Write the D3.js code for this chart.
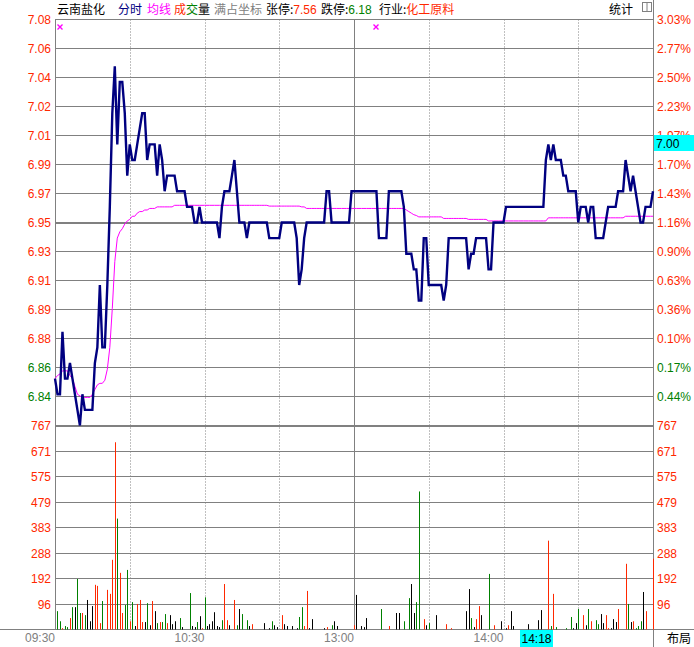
<!DOCTYPE html>
<html><head><meta charset="utf-8">
<script src="https://cdn.jsdelivr.net/npm/d3@7"></script>
<style>html,body{margin:0;padding:0;background:#fff;}svg{display:block;}</style>
</head><body><svg id="c" width="694" height="647"></svg>
<script>
// ---------------- data ----------------
const stockName = "云南盐化";
const limitUp = "7.56", limitDown = "6.18", industry = "化工原料";
const prevClose = 6.87;
const priceTop = 7.08, priceBottom = 6.82;
const priceTickLabels = ["7.08","7.06","7.04","7.02","7.01","6.99","6.97","6.95","6.93","6.91","6.89","6.88","6.86","6.84"];
const pctTickLabels = ["3.03%","2.77%","2.50%","2.23%","1.97%","1.70%","1.43%","1.16%","0.90%","0.63%","0.36%","0.10%","0.17%","0.44%"];
const volMax = 767;
const volTickLabels = ["767","671","575","479","383","288","192","96"];
const timeTickMinutes = [0, 60, 120, 180];
const timeTickLabels = ["09:30","10:30","13:00","14:00"];
const gridMinutes = [30, 60, 90, 120, 150, 180, 210];
const cursorPrice = "7.00", cursorTime = "14:18", cursorMinute = 198;

const price = [
6.85,6.84,6.84,6.88,6.85,6.85,6.86,6.85,6.84,6.83,
6.82,6.84,6.83,6.83,6.83,6.83,6.86,6.87,6.91,6.87,
6.87,6.91,6.96,7.02,7.05,7.00,7.04,7.04,7.02,6.98,
7.00,6.99,6.99,7.00,7.01,7.02,7.02,6.99,7.00,7.00,
7.00,6.98,7.00,6.99,6.97,6.98,6.98,6.98,6.98,6.97,
6.97,6.97,6.97,6.96,6.96,6.96,6.95,6.95,6.96,6.95,
6.95,6.95,6.95,6.95,6.95,6.95,6.94,6.96,6.97,6.97,
6.97,6.98,6.99,6.97,6.95,6.95,6.95,6.94,6.95,6.95,
6.95,6.95,6.95,6.95,6.95,6.95,6.94,6.94,6.94,6.94,
6.94,6.95,6.95,6.95,6.95,6.95,6.95,6.94,6.91,6.92,
6.94,6.95,6.95,6.95,6.95,6.95,6.95,6.95,6.95,6.97,
6.97,6.95,6.95,6.95,6.95,6.95,6.95,6.95,6.95,6.97,
6.97,6.97,6.97,6.97,6.97,6.97,6.97,6.97,6.97,6.97,
6.94,6.94,6.94,6.94,6.97,6.97,6.97,6.97,6.97,6.97,
6.96,6.93,6.93,6.93,6.92,6.92,6.90,6.90,6.94,6.94,
6.91,6.91,6.91,6.91,6.91,6.91,6.90,6.91,6.94,6.94,
6.94,6.94,6.94,6.94,6.94,6.94,6.92,6.93,6.93,6.94,
6.94,6.94,6.94,6.94,6.92,6.92,6.95,6.95,6.95,6.95,
6.95,6.96,6.96,6.96,6.96,6.96,6.96,6.96,6.96,6.96,
6.96,6.96,6.96,6.96,6.96,6.96,6.96,6.99,7.00,6.99,
7.00,6.99,6.99,6.99,6.98,6.98,6.97,6.97,6.97,6.97,
6.95,6.96,6.96,6.96,6.95,6.96,6.96,6.94,6.94,6.94,
6.94,6.95,6.96,6.96,6.96,6.96,6.97,6.97,6.97,6.99,
6.98,6.97,6.98,6.97,6.96,6.95,6.95,6.96,6.96,6.96,
6.97];

const avgPrice = [
6.850,6.852,6.853,6.855,6.855,6.855,6.852,6.850,6.845,6.840,
6.839,6.838,6.838,6.838,6.838,6.840,6.843,6.846,6.847,6.847,
6.849,6.856,6.870,6.895,6.925,6.940,6.944,6.946,6.949,6.951,
6.952,6.954,6.954,6.956,6.957,6.957,6.958,6.958,6.959,6.959,
6.959,6.960,6.960,6.960,6.960,6.960,6.960,6.960,6.961,6.961,
6.961,6.961,6.961,6.961,6.961,6.961,6.961,6.961,6.961,6.961,
6.961,6.961,6.961,6.961,6.961,6.961,6.961,6.961,6.961,6.961,
6.961,6.961,6.961,6.961,6.961,6.961,6.961,6.961,6.961,6.961,
6.961,6.961,6.961,6.961,6.961,6.961,6.9605,6.9605,6.9605,6.9605,
6.9605,6.9605,6.9605,6.9605,6.9605,6.9605,6.9605,6.9605,6.9605,6.960,
6.960,6.959,6.959,6.959,6.959,6.959,6.959,6.959,6.959,6.959,
6.959,6.959,6.959,6.959,6.959,6.959,6.959,6.959,6.959,6.959,
6.959,6.959,6.959,6.959,6.959,6.959,6.959,6.959,6.959,6.959,
6.959,6.959,6.959,6.959,6.959,6.959,6.959,6.959,6.959,6.959,
6.959,6.958,6.957,6.956,6.955,6.9545,6.9536,6.9536,6.9536,6.9536,
6.9536,6.9536,6.9536,6.9536,6.9536,6.9536,6.9526,6.9526,6.9526,6.9526,
6.9526,6.9526,6.9526,6.9526,6.9526,6.9526,6.952,6.952,6.952,6.952,
6.952,6.952,6.952,6.952,6.951,6.951,6.951,6.951,6.951,6.951,
6.951,6.951,6.951,6.951,6.951,6.951,6.951,6.951,6.951,6.951,
6.951,6.951,6.951,6.951,6.951,6.951,6.951,6.951,6.953,6.953,
6.953,6.953,6.953,6.953,6.953,6.953,6.953,6.953,6.953,6.953,
6.953,6.953,6.953,6.953,6.953,6.953,6.953,6.953,6.953,6.953,
6.953,6.953,6.953,6.953,6.953,6.953,6.953,6.953,6.953,6.954,
6.954,6.954,6.954,6.954,6.954,6.954,6.954,6.954,6.954,6.954,
6.954];

const volume = [
0,69,31,5,13,9,43,84,84,190,
62,62,54,111,31,88,168,164,24,107,
0,149,134,262,704,417,213,62,92,224,
31,103,13,96,111,28,28,99,16,107,
69,24,28,28,58,24,54,20,31,0,
43,9,0,0,137,13,9,28,50,5,
121,13,20,31,65,13,9,35,171,35,
16,0,111,16,77,58,0,35,13,20,
0,0,0,0,24,0,5,31,16,9,
0,54,20,13,0,13,0,5,47,84,
13,145,5,39,0,0,0,0,5,9,
0,16,31,13,0,0,0,0,0,0,
16,130,0,13,9,43,0,0,0,0,
0,77,0,0,13,0,0,62,62,0,
31,0,118,171,62,103,519,0,39,16,
24,0,0,54,0,0,0,20,0,5,
0,0,0,0,0,69,152,43,9,39,
88,54,0,0,209,0,16,0,0,31,
0,5,16,69,13,0,0,0,0,0,
20,0,0,0,35,73,0,0,334,13,
134,9,0,0,0,5,0,47,5,24,
77,0,54,16,77,31,0,35,20,58,
24,54,5,5,39,28,77,0,0,247,
96,28,31,5,13,31,141,69,0,0,
266];

// r = up (red), g = down (green), k = flat (black), - = none
const volumeDir = [
"-ggrggrgkg","grgkkkrrrg","-rrrrgrrgg","rgkrrrkgkr","kgrggrkkk-",
"gk--gkkgkr","gkkkkkkgrr","k-rgkg-gkr","----k-kgkk","-rkk-k-kgg",
"rrkk----kr","-gkk------","rk-kkk----","-g--r--kk-","g-gkkgg-rk",
"g--k---r-r","-----kkgkr","rk--g-r--k","-krkk-----","k---kk--rg",
"rg---g-gkk","g-rkgr-ggk","krrkkkr--r","gkrgggkr--","r"].join("").split("");

// ---------------- drawing ----------------
const W = 694, H = 647;
const RED = "#ff2800", GREEN = "#008000", NAVY = "#000080", MAG = "#ff00ff", GRAY = "#808080";
const NUMFONT = "'Liberation Sans', Arial, sans-serif";
const CJKFONT = "'Noto Sans CJK SC', 'Noto Sans', sans-serif";

const svg = d3.select("#c");
const L = 55.5, R = 653.5;
const x = d3.scaleLinear().domain([0, 240]).range([55, 653]);
const yP = d3.scaleLinear().domain([priceBottom, priceTop]).range([425.5, 19.5]);
const yV = d3.scaleLinear().domain([0, volMax]).range([629.5, 425.5]);

const nP = priceTickLabels.length;
const stepP = (priceTop - priceBottom) / nP;
const priceTickVals = priceTickLabels.map((_, i) => priceTop - i * stepP);
const volTickVals = volTickLabels.map((_, i) => volMax * (volTickLabels.length - i) / volTickLabels.length);

const g = svg.append("g");

// horizontal price grid
priceTickVals.concat([priceBottom]).forEach((v, i) => {
  const thick = (i === 7 || i === nP);
  const y = thick ? Math.round(yP(v)) : Math.round(yP(v) - 0.5) + 0.5;
  g.append("line").attr("x1", L).attr("x2", R).attr("y1", y).attr("y2", y)
    .attr("stroke", GRAY).attr("stroke-width", thick ? 2 : 1);
});
// volume grid
volTickVals.slice(1).forEach(v => {
  const y = Math.round(yV(v) - 0.5) + 0.5;
  g.append("line").attr("x1", L).attr("x2", R).attr("y1", y).attr("y2", y)
    .attr("stroke", GRAY).attr("stroke-width", 1);
});
// vertical time grid
gridMinutes.forEach(m => {
  const xx = Math.round(x(m)) + 0.5;
  g.append("line").attr("x1", xx).attr("x2", xx).attr("y1", 19.5).attr("y2", 629)
    .attr("stroke", GRAY).attr("stroke-width", 1)
    .attr("stroke-dasharray", m === 120 ? null : "1,2");
});
// borders
g.append("line").attr("x1", L).attr("x2", L).attr("y1", 19).attr("y2", 629.5).attr("stroke", GRAY);
g.append("line").attr("x1", R).attr("x2", R).attr("y1", 0).attr("y2", H).attr("stroke", GRAY);
g.append("line").attr("x1", 0).attr("x2", W).attr("y1", 629.5).attr("y2", 629.5).attr("stroke", GRAY);

// volume bars
const dirColor = { r: RED, g: GREEN, k: "#000000" };
svg.append("g").selectAll("line").data(volume.map((v, i) => ({ v, i, d: volumeDir[i] })).filter(d => d.v > 0))
  .join("line")
  .attr("x1", d => Math.round(x(d.i)) + 0.5).attr("x2", d => Math.round(x(d.i)) + 0.5)
  .attr("y1", yV(0)).attr("y2", d => yV(d.v))
  .attr("stroke", d => dirColor[d.d] || "#000").attr("stroke-width", 1);

// avg line
svg.append("path").datum(avgPrice)
  .attr("d", d3.line().x((d, i) => x(i)).y(d => yP(d)))
  .attr("fill", "none").attr("stroke", MAG).attr("stroke-width", 1);
// price line
svg.append("path").datum(price)
  .attr("d", d3.line().x((d, i) => x(i)).y(d => yP(d)))
  .attr("fill", "none").attr("stroke", NAVY).attr("stroke-width", 2.4).attr("stroke-linejoin", "miter");

// left / right price labels
const lab = svg.append("g").attr("font-family", NUMFONT).attr("font-size", 12);
priceTickLabels.forEach((t, i) => {
  const v = priceTickVals[i];
  lab.append("text").attr("x", 51).attr("y", yP(v) + 4.5).attr("text-anchor", "end")
    .attr("fill", v >= prevClose ? RED : GREEN).text(t);
  lab.append("text").attr("x", 657).attr("y", yP(v) + 4.5)
    .attr("fill", v >= prevClose ? RED : GREEN).text(pctTickLabels[i]);
});
volTickLabels.forEach((t, i) => {
  const v = volTickVals[i];
  lab.append("text").attr("x", 51).attr("y", yV(v) + 4.5).attr("text-anchor", "end").attr("fill", RED).text(t);
  lab.append("text").attr("x", 657).attr("y", yV(v) + 4.5).attr("fill", RED).text(t);
});
// time labels
timeTickMinutes.forEach((m, i) => {
  lab.append("text").attr("x", x(m)).attr("y", 642).attr("text-anchor", "end")
    .attr("fill", GRAY).text(timeTickLabels[i]);
});

// cursor price box
const cy = yP(+cursorPrice);
svg.append("rect").attr("x", 654).attr("y", Math.round(cy) - 9).attr("width", 40).attr("height", 16).attr("fill", "#00ffff");
svg.append("text").attr("x", 656).attr("y", Math.round(cy) + 4).attr("font-family", NUMFONT).attr("font-size", 12).attr("fill", "#000").text(cursorPrice);
// cursor time box
const cx = x(cursorMinute);
svg.append("rect").attr("x", Math.round(cx) - 28).attr("y", 630).attr("width", 33).attr("height", 17).attr("fill", "#00ffff");
svg.append("text").attr("x", Math.round(cx) - 11.5).attr("y", 643).attr("text-anchor", "middle")
  .attr("font-family", NUMFONT).attr("font-size", 12).attr("fill", "#000").text(cursorTime);

// header
const hdr = svg.append("g").attr("font-family", CJKFONT).attr("font-size", 12);
function ht(xx, parts) {
  const t = hdr.append("text").attr("x", xx).attr("y", 14);
  parts.forEach(p => t.append("tspan").attr("fill", p[1]).attr("font-family", p[2] || null).text(p[0]));
}
ht(57, [[stockName, "#000"]]);
ht(118, [["分时", NAVY]]);
ht(147, [["均线", MAG]]);
ht(174, [["成", RED], ["交", GREEN], ["量", "#000"]]);
ht(214, [["满占坐标", GRAY]]);
ht(266, [["张停:", "#000"], [limitUp, RED, NUMFONT]]);
ht(321, [["跌停:", "#000"], [limitDown, GREEN, NUMFONT]]);
ht(379, [["行业:", "#000"], [industry, RED]]);
ht(609, [["统计", "#000"]]);
hdr.append("text").attr("x", 667).attr("y", 643).attr("fill", "#000").text("布局");
// small icon
svg.append("rect").attr("x", 642.5).attr("y", 2.5).attr("width", 9).attr("height", 9).attr("fill", "none").attr("stroke", GRAY);
svg.append("line").attr("x1", 647).attr("x2", 647).attr("y1", 3).attr("y2", 11).attr("stroke", GRAY);

// magenta x marks
[x(2), x(129)].forEach(mx => {
  const cx0 = Math.round(mx), cy0 = 27;
  svg.append("path").attr("d", `M${cx0-2.5},${cy0-2.5}L${cx0+2.5},${cy0+2.5}M${cx0+2.5},${cy0-2.5}L${cx0-2.5},${cy0+2.5}`)
    .attr("stroke", MAG).attr("stroke-width", 1.4);
});
</script></body></html>
